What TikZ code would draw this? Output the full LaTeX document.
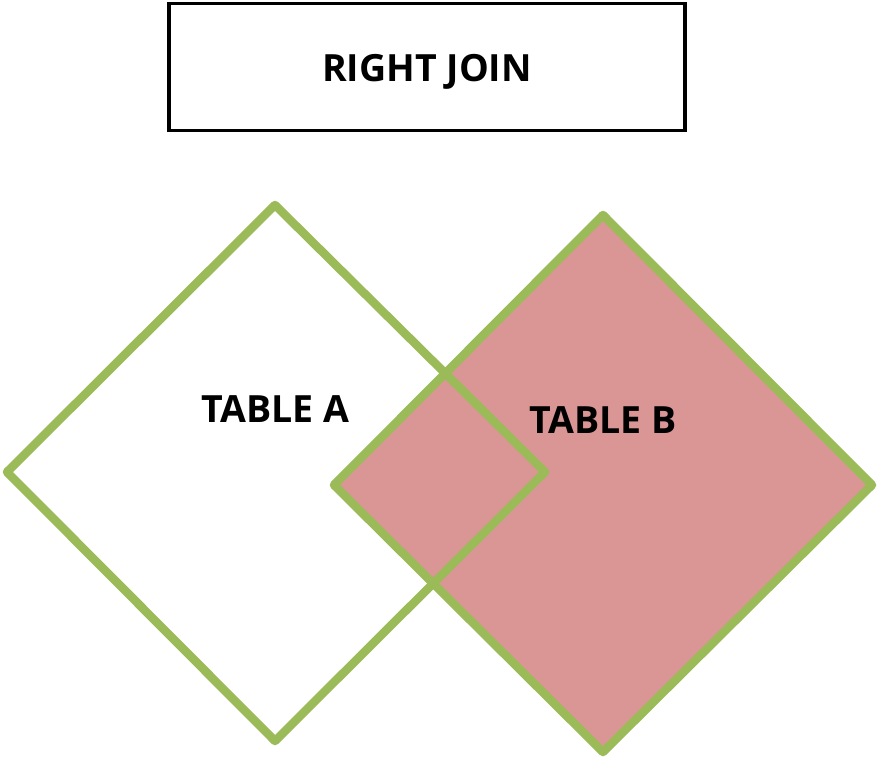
\documentclass[tikz,border=0pt]{standalone}
\usepackage{fontspec}
\setmainfont{Open Sans}
\definecolor{gr}{HTML}{9BBB59}
\definecolor{pk}{HTML}{D99694}
\begin{document}
\begin{tikzpicture}[x=1pt,y=-1pt,
  dia/.style={draw=gr,line width=8.5pt,line join=round},
  lbl/.style={font=\bfseries\fontsize{37.5}{44}\selectfont,inner sep=0pt}]
\useasboundingbox (0,0) rectangle (879,760);
\node[draw=black,line width=3.5pt,minimum width=516pt,minimum height=127pt,inner sep=0pt] (title) at (427,67) {};
\node[lbl] (tt) at (427,72) {RIGHT JOIN};
\coordinate (at) at (275,205);
\coordinate (al) at (7,472);
\coordinate (ab) at (275,741);
\coordinate (ar) at (545,472);
\coordinate (bt) at (603,215);
\coordinate (bl) at (334,485);
\coordinate (bb) at (603,752);
\coordinate (br) at (872,485);
\fill[pk] (bt) -- (br) -- (bb) -- (bl) -- cycle;
\draw[dia] (at) -- (ar) -- (ab) -- (al) -- cycle;
\draw[dia] (bt) -- (br) -- (bb) -- (bl) -- cycle;
\node[lbl] (ta) at (275,409) {TABLE A};
\node[lbl] (tb) at (603,420) {TABLE B};
\end{tikzpicture}
\end{document}
